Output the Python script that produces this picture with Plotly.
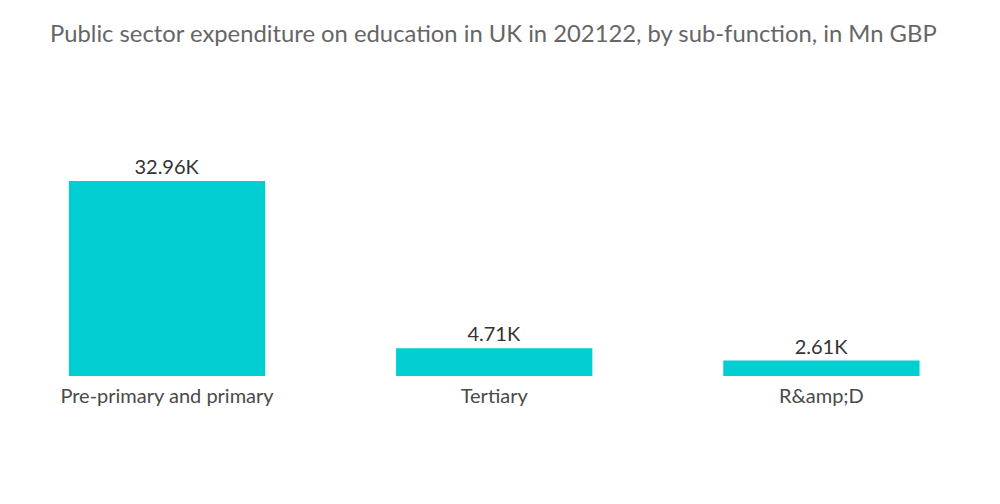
import plotly.graph_objects as go

categories = ["Pre-primary and primary", "Tertiary", "R&amp;amp;D"]
values = [32960, 4710, 2610]
value_labels = ["32.96K", "4.71K", "2.61K"]

fig = go.Figure(go.Bar(
    x=categories, y=values,
    text=value_labels, textposition="outside", cliponaxis=False,
    textfont=dict(size=20, color="#333333", family="Lato, sans-serif"),
    marker=dict(color="#00CED1", line=dict(width=0)),
))

fig.update_layout(
    width=1000, height=504,
    paper_bgcolor="white", plot_bgcolor="white",
    margin=dict(l=0, r=23, t=134, b=136),
    bargap=0.4,
    showlegend=False,
    title=dict(text="Public sector expenditure on education in UK in 202122, by sub-function, in Mn GBP",
               x=0.042, xanchor="left", y=0.95, yanchor="middle",
               font=dict(size=23.8, color="#666666", family="Lato, sans-serif")),
    font=dict(family="Lato, sans-serif"),
)
fig.update_xaxes(showgrid=False, showline=False, ticks="", zeroline=False,
                 range=[-0.486, 2.5], ticklabelstandoff=6,
                 tickfont=dict(size=20, color="#4a4a4a"))
fig.update_yaxes(visible=False, range=[0, 39552], showgrid=False, zeroline=False)

fig.write_html("out.html")
